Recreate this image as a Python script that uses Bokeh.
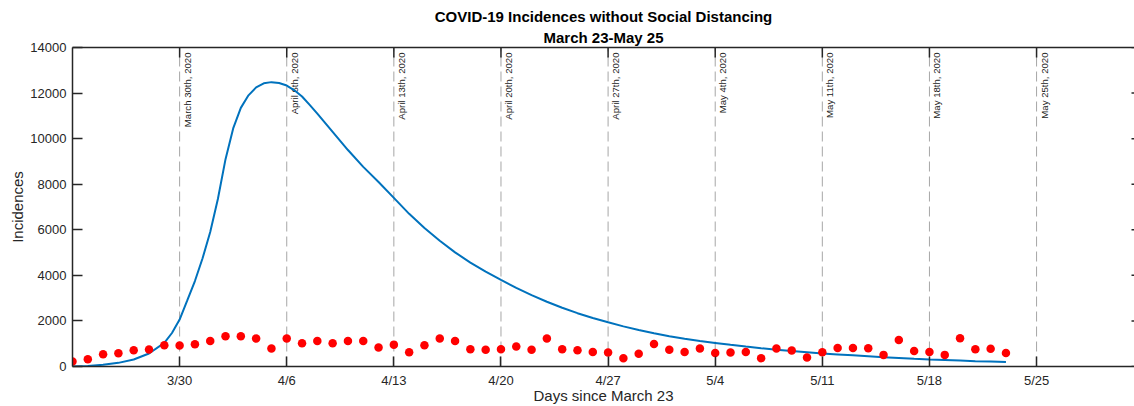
from bokeh.plotting import figure
from bokeh.models import Range1d, FixedTicker, LinearAxis, Title, ColumnDataSource
from bokeh.core.properties import value
from bokeh.embed import file_html
from bokeh.resources import INLINE

# ---- data (days since March 23) ----
curve_days = [0, 1, 2, 3, 4, 5, 6, 6.5, 7, 7.5, 8, 8.5, 9, 9.5,
              10, 10.5, 11, 11.5, 12, 12.5, 13, 13.5, 14, 14.5, 15, 15.5, 16,
              17, 18, 19, 20, 21, 22, 23, 24, 25, 26, 27, 28, 29,
              30, 31, 32, 33, 34, 35, 36, 37, 38, 39,
              40, 41, 42, 43, 44, 45, 46, 47, 48, 49,
              50, 51, 52, 53, 54, 55, 56, 57, 58, 59, 60, 61]
model_incidences = [0, 20, 73, 160, 306, 570, 1035, 1470, 2060, 2900, 3750, 4750, 5900, 7350,
                    9100, 10450, 11350, 11900, 12250, 12430, 12480, 12440, 12330, 12120, 11850, 11480, 11100,
                    10300, 9500, 8760, 8100, 7400, 6700, 6080, 5520, 5010, 4560, 4160, 3800, 3450,
                    3130, 2840, 2580, 2340, 2130, 1940, 1760, 1600, 1460, 1330,
                    1220, 1120, 1035, 950, 875, 805, 740, 680, 625, 570,
                    530, 490, 450, 410, 375, 340, 310, 285, 260, 235, 215, 195]
obs_days = list(range(62))
observed_incidences = [219, 320, 540, 580, 715, 745, 935, 920, 980, 1120,
                       1330, 1330, 1225, 790, 1225, 1020, 1120, 1020, 1120, 1120,
                       830, 960, 630, 935, 1225, 1120, 760, 730, 760, 875,
                       730, 1225, 760, 715, 640, 610, 365, 555, 990, 730,
                       640, 790, 595, 610, 640, 365, 790, 700, 395, 630,
                       815, 815, 800, 510, 1165, 685, 640, 510, 1240, 760,
                       775, 595]
week_days = [7, 14, 21, 28, 35, 42, 49, 56, 63]
week_tick_labels = ["3/30", "4/6", "4/13", "4/20", "4/27", "5/4", "5/11", "5/18", "5/25"]
week_line_labels = ["March 30th, 2020", "April 6th, 2020", "April 13th, 2020",
                    "April 20th, 2020", "April 27th, 2020", "May 4th, 2020",
                    "May 11th, 2020", "May 18th, 2020", "May 25th, 2020"]
y_ticks = [0, 2000, 4000, 6000, 8000, 10000, 12000, 14000]
Y_MAX = 14000
X_MAX = 69.4

FONT = "Liberation Sans"
AXC = "#262626"

p = figure(width=1134, height=406, output_backend="svg", toolbar_location=None,
           x_range=Range1d(0, X_MAX), y_range=Range1d(0, Y_MAX),
           min_border_left=72, min_border_top=47, min_border_bottom=39, min_border_right=0)
p.title = None
p.outline_line_color = None
p.xgrid.visible = False
p.ygrid.visible = False
p.background_fill_color = "white"
p.border_fill_color = "white"

# week lines
p.segment(x0=week_days, y0=[0] * len(week_days), x1=week_days, y1=[Y_MAX] * len(week_days),
          line_color="#a6a6a6", line_width=1, line_dash="10 5")
src_lbl = ColumnDataSource(dict(x=week_days, y=[Y_MAX] * len(week_days), t=week_line_labels))
p.text(x="x", y="y", text="t", source=src_lbl, angle=1.5708, text_align="right",
       text_baseline="top", x_offset=2, y_offset=5, text_font=value(FONT),
       text_font_size="9.6px", text_color="#1a1a1a")

# inward ticks on the top and right edges of the box
p.scatter(x=week_days, y=[Y_MAX] * len(week_days), marker="dash", angle=1.5708, size=20,
          line_color=AXC, line_width=1.5)
p.scatter(x=[X_MAX] * len(y_ticks), y=y_ticks, marker="dash", size=6,
          line_color=AXC, line_width=1.5)

# model curve and observed points
p.line(curve_days, model_incidences, line_color="#0072BD", line_width=2)
p.scatter(obs_days, observed_incidences, size=8.5, fill_color="#FF0000", line_color=None)

# axes
xa = p.xaxis[0]
xa.ticker = FixedTicker(ticks=week_days)
xa.major_label_overrides = {d: l for d, l in zip(week_days, week_tick_labels)}
ya = p.yaxis[0]
ya.ticker = FixedTicker(ticks=y_ticks)
for ax in (xa, ya):
    ax.axis_line_color = AXC
    ax.axis_line_width = 1.5
    ax.major_tick_line_color = AXC
    ax.major_tick_line_width = 1.5
    ax.major_tick_in = 10
    ax.major_tick_out = 0
    ax.minor_tick_line_color = None
    ax.major_label_text_font = FONT
    ax.major_label_text_font_size = "13px"
    ax.major_label_text_color = AXC
    ax.axis_label_text_font = FONT
    ax.axis_label_text_font_size = "15px"
    ax.axis_label_text_font_style = "normal"
    ax.axis_label_text_color = AXC
    ax.major_label_standoff = 6
xa.axis_label = "Days since March 23"
xa.axis_label_standoff = -4
ya.axis_label = "Incidences"
ya.axis_label_standoff = 1

top = LinearAxis(ticker=FixedTicker(ticks=[]), axis_line_color=AXC, axis_line_width=1.5,
                 major_tick_line_color=None, minor_tick_line_color=None,
                 major_label_standoff=0)
p.add_layout(top, "above")

p.add_layout(Title(text="March 23-May 25", align="center", text_font=FONT, text_font_size="15px",
                   text_font_style="bold", text_color="black", standoff=4), "above")
p.add_layout(Title(text="COVID-19 Incidences without Social Distancing", align="center",
                   text_font=FONT, text_font_size="15px", text_font_style="bold",
                   text_color="black", standoff=0), "above")

open("out.html", "w").write(file_html(p, INLINE))
